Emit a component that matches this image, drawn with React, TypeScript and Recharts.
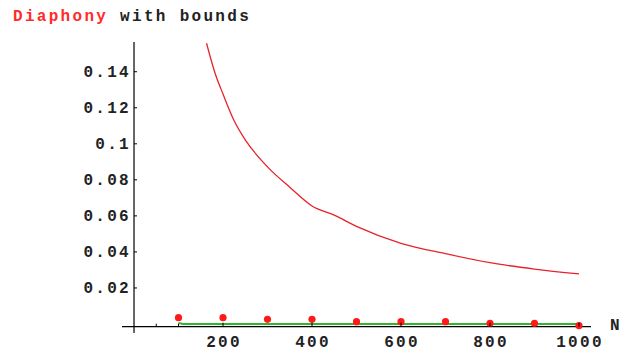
import React from 'react';
import { ComposedChart, Line, Scatter, XAxis, YAxis, ReferenceLine } from 'recharts';

// Upper bound curve (red line)
const curveN = [163, 182, 200, 225, 250, 300, 350, 400, 450, 500, 600, 700, 800, 900, 1000];
const curveValues = [0.1558, 0.1393, 0.1276, 0.1128, 0.1022, 0.0872, 0.0759, 0.0655, 0.0604, 0.0542, 0.0448, 0.039, 0.034, 0.0305, 0.0278];

// Diaphony values (red dots)
const diaphonyN = [100, 200, 300, 400, 500, 600, 700, 800, 900, 1000];
const diaphonyValues = [0.0035, 0.0035, 0.0026, 0.0026, 0.0013, 0.0013, 0.0013, 0.0004, 0.0004, -0.0009];

// Lower bound (green line)
const lowerN = [100, 110, 200, 300, 400, 500, 600, 700, 800, 900, 1000];
const lowerValues = [0.0006, 0, 0, 0, 0, 0, 0, 0, 0, 0, 0];

// Ticks
const xTicks = [50, 100, 200, 400, 600, 800, 1000];
const xTickLabels = [200, 400, 600, 800, 1000];
const yTicks = [0.02, 0.04, 0.06, 0.08, 0.1, 0.12, 0.14];
const yTickLabels = ['0.02', '0.04', '0.06', '0.08', '0.1', '0.12', '0.14'];

const W = 629;
const H = 351;
const X_DOMAIN: [number, number] = [-27, 1027];
const Y_DOMAIN: [number, number] = [-0.005, 0.1565];
const AXIS_Y = -0.0015;
const PLOT_TOP = 42;
const PLOT_BOTTOM = 333;
const PLOT_LEFT = 122;
const PLOT_RIGHT = 591;
const pxPerY = (PLOT_BOTTOM - PLOT_TOP) / (Y_DOMAIN[1] - Y_DOMAIN[0]);
const pxPerX = (PLOT_RIGHT - PLOT_LEFT) / (X_DOMAIN[1] - X_DOMAIN[0]);
const axisOffsetY = (AXIS_Y - Y_DOMAIN[0]) * pxPerY; // px above plot bottom
const axisOffsetX = (0 - X_DOMAIN[0]) * pxPerX; // px right of plot left

const FONT = "'Liberation Mono', 'DejaVu Sans Mono', monospace";
const fontProps = {
  fontFamily: FONT,
  fontWeight: 'bold' as const,
  fontSize: 16,
  letterSpacing: 2.3,
  fill: '#222',
};

const curveData = curveN.map((n, i) => ({ n, v: curveValues[i] }));
const dotData = diaphonyN.map((n, i) => ({ n, v: diaphonyValues[i] }));
const lowerData = lowerN.map((n, i) => ({ n, v: lowerValues[i] }));

const XTick = (props: any) => {
  const { x, y, payload } = props;
  const v = payload.value as number;
  const idx = xTickLabels.indexOf(v);
  const axisPx = y - axisOffsetY;
  return (
    <g>
      <line x1={x} x2={x} y1={axisPx} y2={axisPx - (idx >= 0 ? 4 : 3)} stroke="#000" strokeWidth={1} />
      {idx >= 0 && (
        <text x={x + 1} y={y + 14} textAnchor="middle" {...fontProps}>
          {String(xTickLabels[idx])}
        </text>
      )}
    </g>
  );
};

const YTick = (props: any) => {
  const { x, y, payload } = props;
  const v = payload.value as number;
  const idx = yTicks.indexOf(v);
  const axisPx = x + axisOffsetX;
  return (
    <g>
      <line x1={axisPx} x2={axisPx + 3} y1={y} y2={y} stroke="#000" strokeWidth={1} />
      <text x={axisPx - 3} y={y + 5} textAnchor="end" {...fontProps}>
        {idx >= 0 ? yTickLabels[idx] : ''}
      </text>
    </g>
  );
};

const RedDot = (p: any) => <circle cx={p.cx} cy={p.cy} r={3.6} fill="#ff1a1a" />;

export default function App() {
  return (
    <div style={{ position: 'absolute', left: 0, top: 0, width: W, height: H, background: '#fff' }}>
      <ComposedChart
        width={W}
        height={H}
        margin={{ top: PLOT_TOP, right: W - PLOT_RIGHT, bottom: 0, left: 0 }}
      >
        <XAxis
          type="number"
          dataKey="n"
          domain={X_DOMAIN}
          allowDataOverflow
          ticks={xTicks}
          interval={0}
          axisLine={false}
          tickLine={false}
          tickSize={0}
          tickMargin={0}
          height={H - PLOT_BOTTOM}
          tick={<XTick />}
        />
        <YAxis
          type="number"
          dataKey="v"
          domain={Y_DOMAIN}
          allowDataOverflow
          ticks={yTicks}
          interval={0}
          axisLine={false}
          tickLine={false}
          tickSize={0}
          tickMargin={0}
          width={PLOT_LEFT}
          tick={<YTick />}
        />
        <ReferenceLine x={0} stroke="#000" strokeWidth={1.2} />
        <ReferenceLine y={AXIS_Y} stroke="#000" strokeWidth={1.2} />
        <Line
          data={curveData}
          dataKey="v"
          type="monotone"
          stroke="#e8222a"
          strokeWidth={1.3}
          dot={false}
          isAnimationActive={false}
        />
        <Line
          data={lowerData}
          dataKey="v"
          type="linear"
          stroke="#2fb52f"
          strokeWidth={2}
          dot={false}
          isAnimationActive={false}
        />
        <Scatter data={dotData} dataKey="v" shape={<RedDot />} isAnimationActive={false} />
      </ComposedChart>
      <svg width={W} height={H} style={{ position: 'absolute', left: 0, top: 0, pointerEvents: 'none' }}>
        <text x={13} y={21} {...fontProps}>
          <tspan fill="#ff2a2a">Diaphony</tspan>
          <tspan fill="#222"> with bounds</tspan>
        </text>
        <text x={610} y={329.5} {...fontProps}>N</text>
      </svg>
    </div>
  );
}
